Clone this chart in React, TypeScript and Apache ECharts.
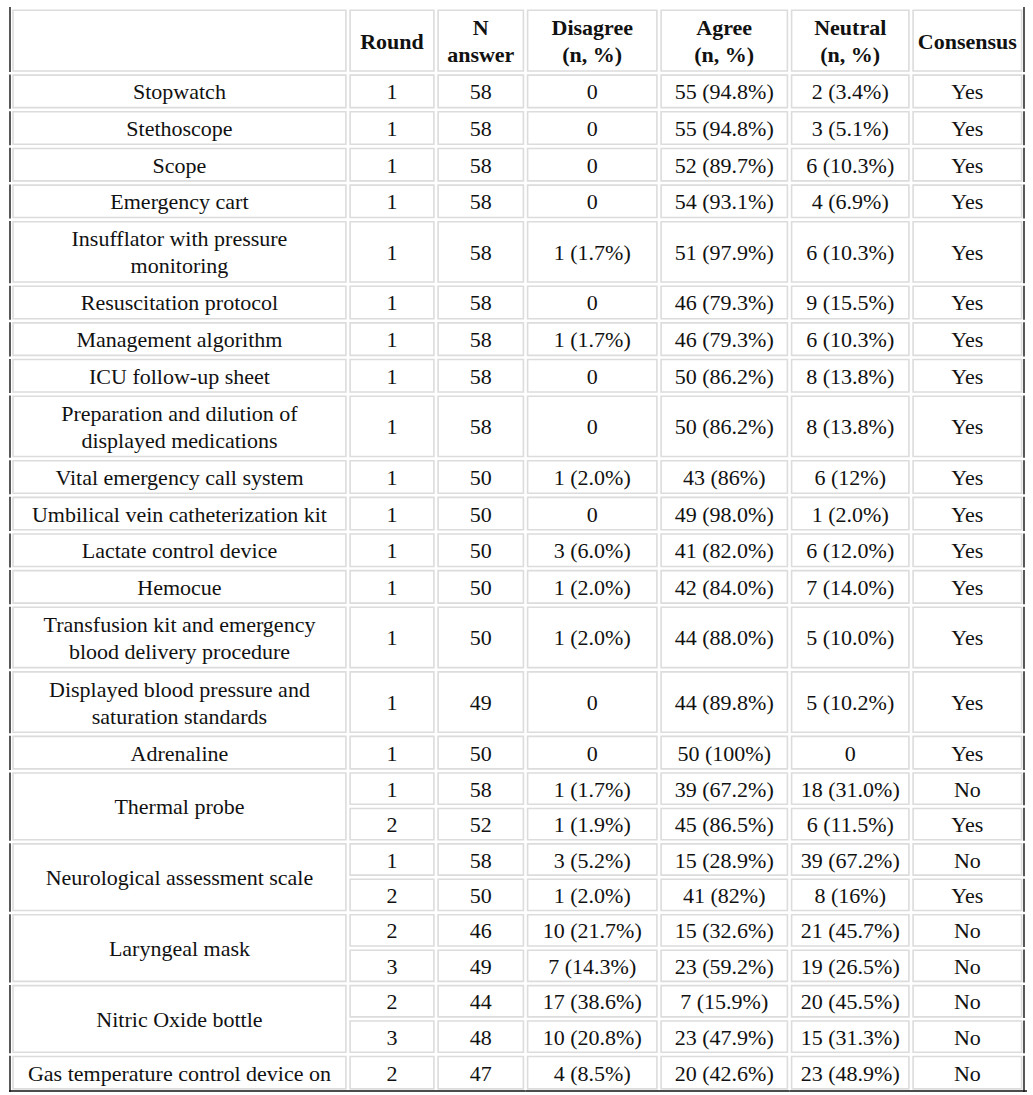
import React, { useEffect, useRef } from "react";
import * as echarts from "echarts";

// ---------- data ----------
const headerLabels = ["", "Round", "N\nanswer", "Disagree\n(n, %)", "Agree\n(n, %)", "Neutral\n(n, %)", "Consensus"];

const itemNames = [
  "Stopwatch",
  "Stethoscope",
  "Scope",
  "Emergency cart",
  "Insufflator with pressure\nmonitoring",
  "Resuscitation protocol",
  "Management algorithm",
  "ICU follow-up sheet",
  "Preparation and dilution of\ndisplayed medications",
  "Vital emergency call system",
  "Umbilical vein catheterization kit",
  "Lactate control device",
  "Hemocue",
  "Transfusion kit and emergency\nblood delivery procedure",
  "Displayed blood pressure and\nsaturation standards",
  "Adrenaline",
  "Thermal probe",
  "Neurological assessment scale",
  "Laryngeal mask",
  "Nitric Oxide bottle",
  "Gas temperature control device on",
];

// one entry per round row
const rowItem = [0, 1, 2, 3, 4, 5, 6, 7, 8, 9, 10, 11, 12, 13, 14, 15, 16, 16, 17, 17, 18, 18, 19, 19, 20];
const rounds = [1, 1, 1, 1, 1, 1, 1, 1, 1, 1, 1, 1, 1, 1, 1, 1, 1, 2, 1, 2, 2, 3, 2, 3, 2];
const nAnswer = [58, 58, 58, 58, 58, 58, 58, 58, 58, 50, 50, 50, 50, 50, 49, 50, 58, 52, 58, 50, 46, 49, 44, 48, 47];
const disagreeN = [0, 0, 0, 0, 1, 0, 1, 0, 0, 1, 0, 3, 1, 1, 0, 0, 1, 1, 3, 1, 10, 7, 17, 10, 4];
const disagreePct = [null, null, null, null, "1.7", null, "1.7", null, null, "2.0", null, "6.0", "2.0", "2.0", null, null, "1.7", "1.9", "5.2", "2.0", "21.7", "14.3", "38.6", "20.8", "8.5"];
const agreeN = [55, 55, 52, 54, 51, 46, 46, 50, 50, 43, 49, 41, 42, 44, 44, 50, 39, 45, 15, 41, 15, 23, 7, 23, 20];
const agreePct = ["94.8", "94.8", "89.7", "93.1", "97.9", "79.3", "79.3", "86.2", "86.2", "86", "98.0", "82.0", "84.0", "88.0", "89.8", "100", "67.2", "86.5", "28.9", "82", "32.6", "59.2", "15.9", "47.9", "42.6"];
const neutralN = [2, 3, 6, 4, 6, 9, 6, 8, 8, 6, 1, 6, 7, 5, 5, 0, 18, 6, 39, 8, 21, 19, 20, 15, 23];
const neutralPct = ["3.4", "5.1", "10.3", "6.9", "10.3", "15.5", "10.3", "13.8", "13.8", "12", "2.0", "12.0", "14.0", "10.0", "10.2", null, "31.0", "11.5", "67.2", "16", "45.7", "26.5", "45.5", "31.3", "48.9"];
const consensus = ["Yes", "Yes", "Yes", "Yes", "Yes", "Yes", "Yes", "Yes", "Yes", "Yes", "Yes", "Yes", "Yes", "Yes", "Yes", "Yes", "No", "Yes", "No", "Yes", "No", "No", "No", "No", "No"];

// ---------- layout (not data) ----------
const COL_W = [338, 88, 89.5, 133.5, 130.5, 121.5, 113];
const H_HEADER = 1.776;
const H_TWO_LINE = 1.762;
const H_ONE_LINE = 1;
const H_SUB = 0.967;
const FONT = "22px serif";
const FONT_BOLD = "bold 22px serif";

const fmt = (n: number, p: string | null) => (p ? `${n} (${p}%)` : `${n}`);

type Cell = { v: number[]; text: string; bold: boolean; left: boolean; right: boolean; bottom: boolean; top: boolean };

function buildCells() {
  const colX: number[] = [0];
  COL_W.forEach((w, i) => colX.push(colX[i] + w));
  const cells: Cell[] = [];
  let y = 0;
  const push = (c: number, y0: number, y1: number, text: string, bold = false) =>
    cells.push({ v: [colX[c], colX[c + 1], y0, y1], text, bold, left: c === 0, right: c === COL_W.length - 1, bottom: false, top: y0 === 0 });

  headerLabels.forEach((t, c) => push(c, 0, H_HEADER, t, true));
  y = H_HEADER;

  itemNames.forEach((name, it) => {
    const rows = rowItem.map((r, i) => (r === it ? i : -1)).filter((i) => i >= 0);
    const multi = rows.length > 1;
    const rowH = multi ? H_SUB : name.includes("\n") ? H_TWO_LINE : H_ONE_LINE;
    const y0 = y;
    rows.forEach((ri, k) => {
      const a = y0 + k * rowH;
      const b = a + rowH;
      push(1, a, b, String(rounds[ri]));
      push(2, a, b, String(nAnswer[ri]));
      push(3, a, b, fmt(disagreeN[ri], disagreePct[ri]));
      push(4, a, b, fmt(agreeN[ri], agreePct[ri]));
      push(5, a, b, fmt(neutralN[ri], neutralPct[ri]));
      push(6, a, b, consensus[ri]);
    });
    y = y0 + rows.length * rowH;
    push(0, y0, y, name);
  });
  const total = y;
  cells.forEach((c) => {
    if (Math.abs(c.v[3] - total) < 1e-6) c.bottom = true;
  });
  return { cells, total, width: colX[colX.length - 1] };
}

export default function App() {
  const ref = useRef<HTMLDivElement>(null);
  useEffect(() => {
    if (!ref.current) return;
    const chart = echarts.init(ref.current, undefined, { renderer: "svg" });
    const { cells, total, width } = buildCells();
    const INSET = 2.1;
    chart.setOption({
      animation: false,
      backgroundColor: "#ffffff",
      grid: { left: 10, top: 8, width: width, height: 1083 },
      xAxis: { type: "value", min: 0, max: width, show: false },
      yAxis: { type: "value", min: 0, max: total, inverse: true, show: false },
      series: [
        {
          type: "custom",
          coordinateSystem: "cartesian2d",
          clip: false,
          encode: { x: [0, 1], y: [2, 3] },
          data: cells.map((c) => c.v),
          renderItem: (params: any, api: any) => {
            const c = cells[params.dataIndex];
            const p0 = api.coord([api.value(0), api.value(2)]);
            const p1 = api.coord([api.value(1), api.value(3)]);
            const x0 = p0[0], y0 = p0[1], x1 = p1[0], y1 = p1[1];
            const il = c.left ? 3 : INSET;
            const ir = c.right ? 2.4 : INSET;
            const it = c.top ? 2.2 : INSET;
            const children: any[] = [
              {
                type: "rect",
                shape: { x: x0 + il, y: y0 + it, width: x1 - x0 - il - ir, height: y1 - y0 - it - INSET },
                style: { fill: "#ffffff", stroke: "#dcdcdc", lineWidth: 1.6 },
              },
              {
                type: "text",
                style: {
                  text: c.text,
                  x: (x0 + il + x1 - ir) / 2,
                  y: (y0 + it + y1 - INSET) / 2 + 0.5,
                  align: "center",
                  verticalAlign: "middle",
                  font: c.bold ? FONT_BOLD : FONT,
                  lineHeight: 27,
                  fill: "#111111",
                },
              },
            ];
            if (c.left) {
              children.push({
                type: "line",
                shape: { x1: x0, y1: c.top ? y0 - 1 : y0 + 1.5, x2: x0, y2: c.bottom ? y1 + 1 : y1 - 1 },
                style: { stroke: "#111111", lineWidth: 1.4 },
              });
            }
            if (c.right) {
              children.push({
                type: "line",
                shape: { x1: x1, y1: c.top ? y0 - 1 : y0 + 1.5, x2: x1, y2: c.bottom ? y1 + 1 : y1 - 1 },
                style: { stroke: "#111111", lineWidth: 1.4 },
              });
            }
            if (c.bottom) {
              children.push({
                type: "line",
                shape: { x1: c.left ? x0 - 1 : x0, y1: y1, x2: c.right ? x1 + 3 : x1, y2: y1 },
                style: { stroke: "#111111", lineWidth: 1.4 },
              });
            }
            return { type: "group", children };
          },
        },
      ],
    });
    return () => chart.dispose();
  }, []);
  return (
    <div
      ref={ref}
      style={{ position: "fixed", left: 0, top: 0, width: 1033, height: 1095, background: "#fff" }}
    />
  );
}
